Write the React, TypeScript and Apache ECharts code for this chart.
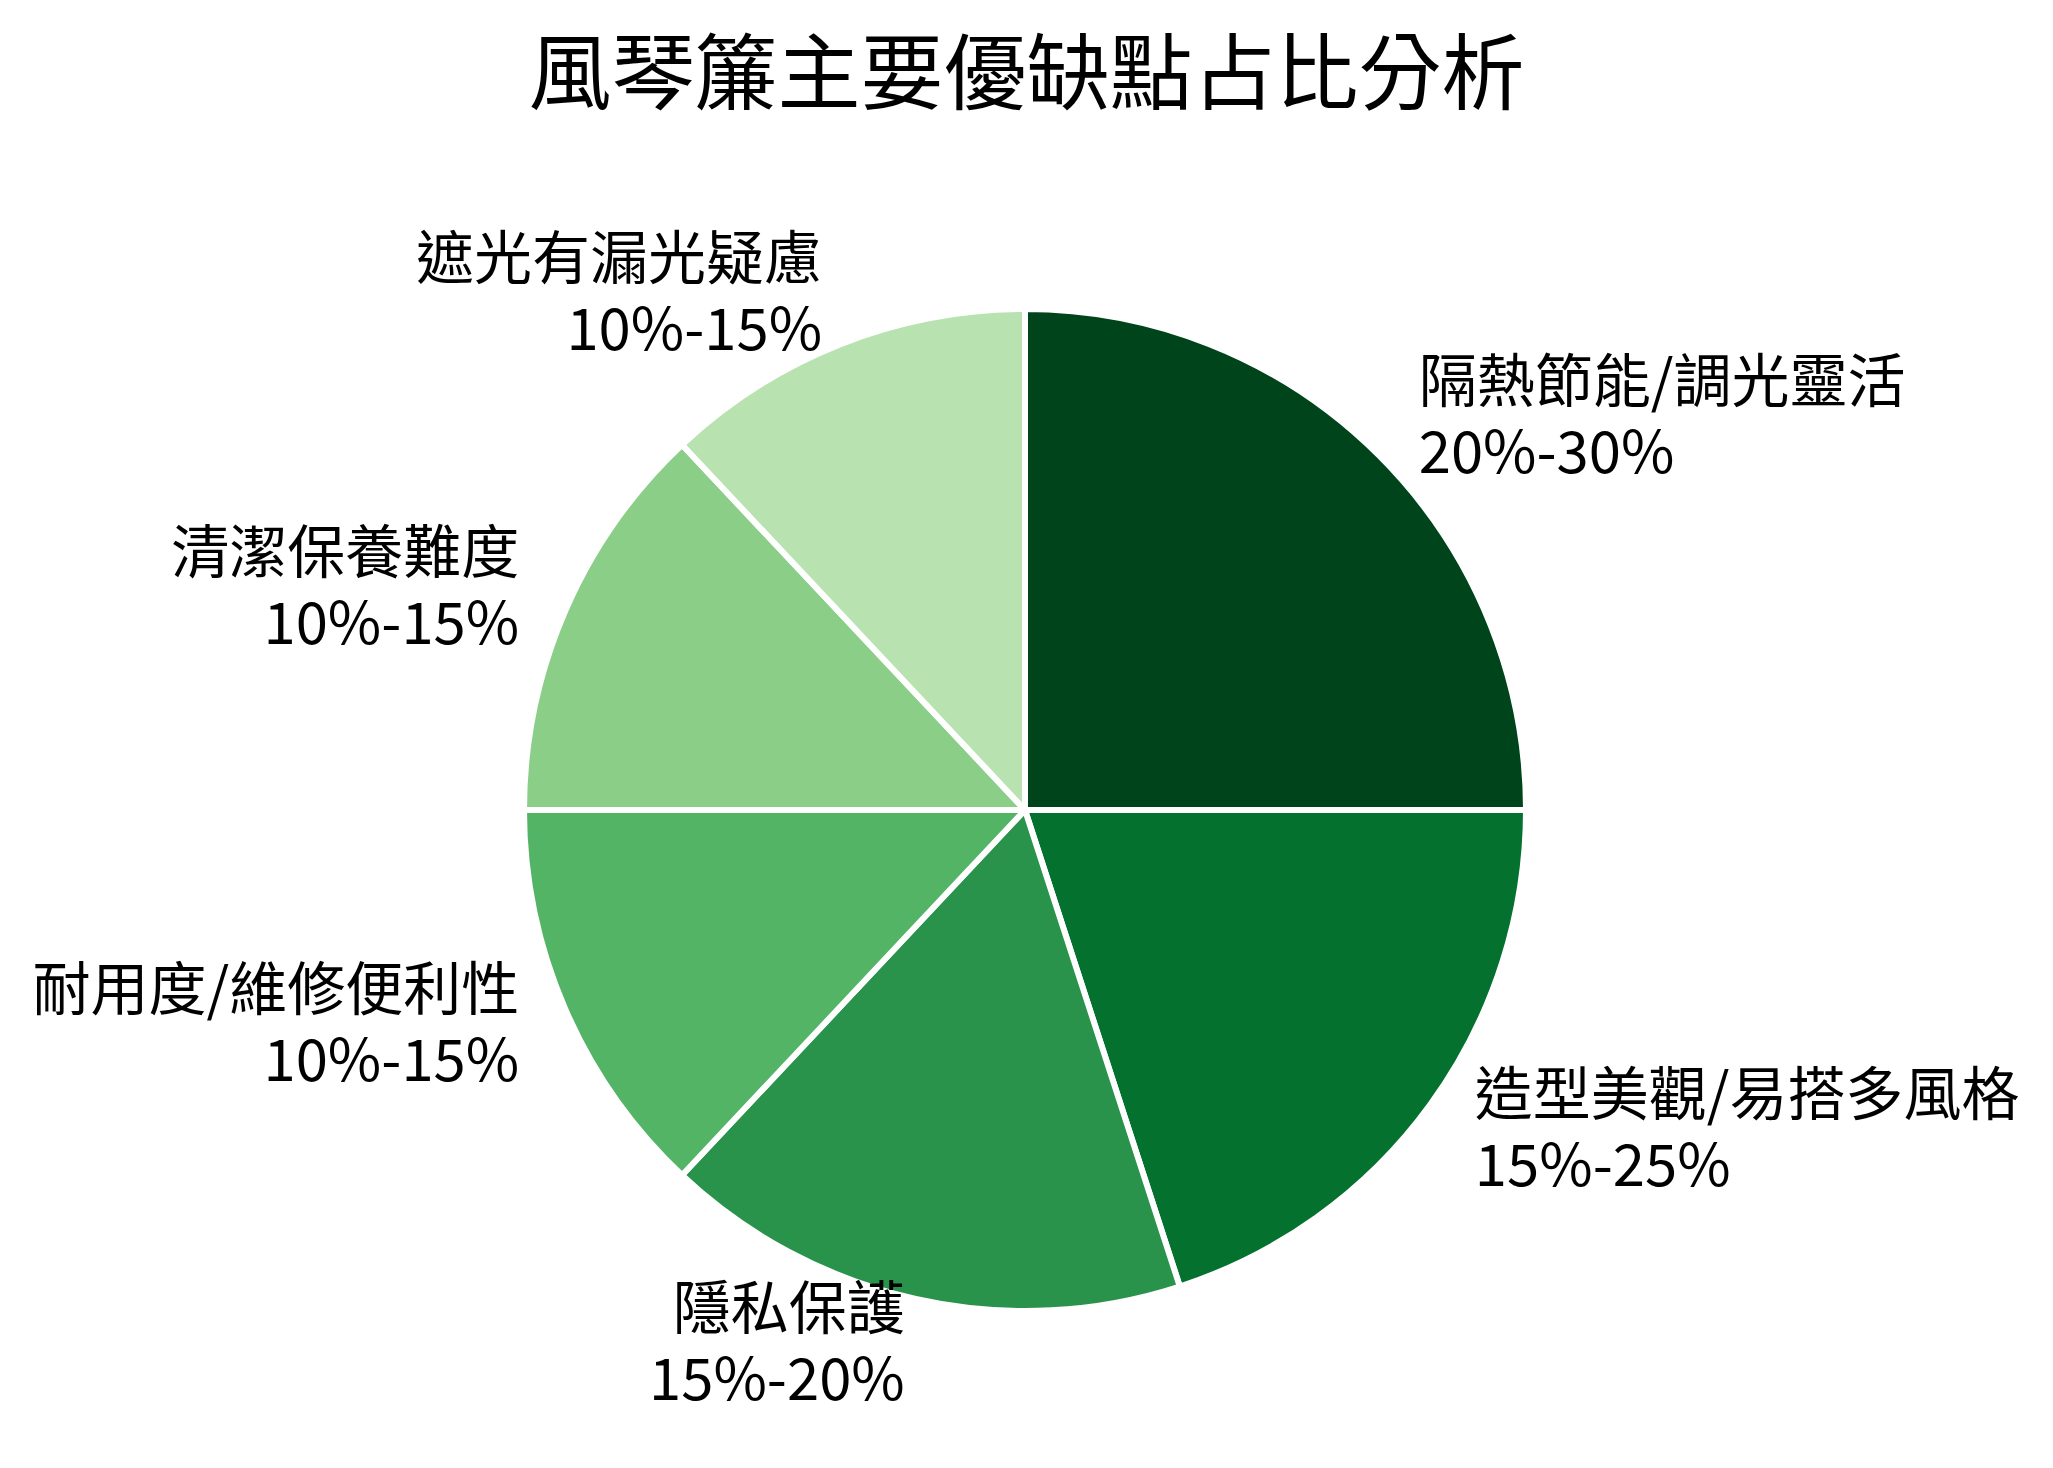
import React, { useEffect, useRef } from "react";
import * as echarts from "echarts";

const titleText = "風琴簾主要優缺點占比分析";
const categories = [
  "隔熱節能/調光靈活",
  "造型美觀/易搭多風格",
  "隱私保護",
  "耐用度/維修便利性",
  "清潔保養難度",
  "遮光有漏光疑慮",
];
const rangeLabels = ["20%-30%", "15%-25%", "15%-20%", "10%-15%", "10%-15%", "10%-15%"];
const values = [25, 20, 17, 13, 13, 12];
const colors = ["#00441b", "#04712f", "#2a934b", "#53b466", "#8ace88", "#b8e3b1"];

const FONT = '"Noto Sans CJK TC", "Noto Sans CJK SC", "Noto Sans", sans-serif';

export default function App() {
  const ref = useRef<HTMLDivElement>(null);
  useEffect(() => {
    if (!ref.current) return;
    const chart = echarts.init(ref.current, undefined, { renderer: "svg" });
    const radius = 501;
    chart.setOption({
      animation: false,
      backgroundColor: "#ffffff",
      title: {
        text: titleText,
        left: "center",
        top: 20,
        textStyle: {
          fontFamily: FONT,
          fontSize: 83,
          fontWeight: "normal",
          color: "#000000",
          lineHeight: 84,
        },
      },
      series: [
        {
          type: "pie",
          center: [1025, 810],
          radius: radius,
          startAngle: 90,
          clockwise: true,
          avoidLabelOverlap: false,
          data: categories.map((c, i) => ({
            name: c,
            value: values[i],
            itemStyle: { color: colors[i] },
          })),
          itemStyle: { borderColor: "#ffffff", borderWidth: 6 },
          label: {
            show: true,
            position: "outside",
            formatter: (p: any) => `${p.name}\n${rangeLabels[p.dataIndex]}`,
            fontFamily: FONT,
            fontSize: 58,
            lineHeight: 71,
            color: "#000000",
            distanceToLabelLine: 0,
            padding: [0, 0, 0, 4],
          },
          labelLayout: { dy: -8 },
          labelLine: { show: false, length: radius * 0.1, length2: 0 },
          emphasis: { disabled: true },
        },
      ],
    });
    return () => chart.dispose();
  }, []);
  return (
    <div
      ref={ref}
      style={{ position: "fixed", left: 0, top: 0, width: 2053, height: 1468, background: "#fff" }}
    />
  );
}
